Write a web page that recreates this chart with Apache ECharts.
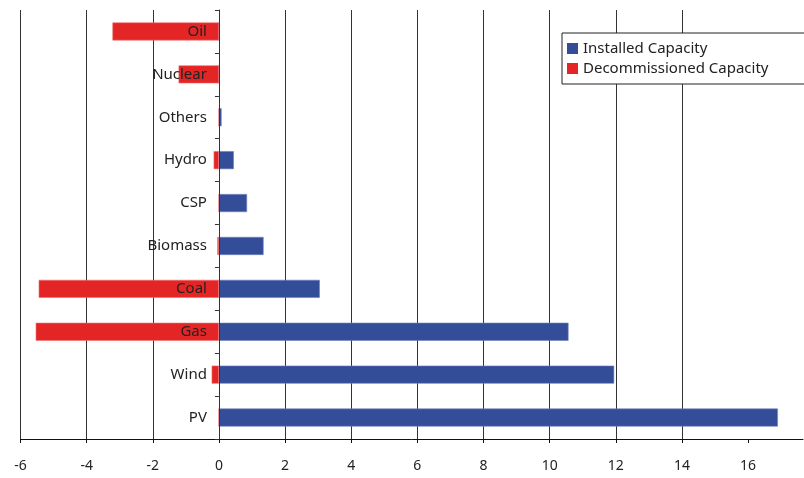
<!DOCTYPE html>
<html>
<head>
<meta charset="utf-8">
<script src="https://cdn.jsdelivr.net/npm/echarts@6/dist/echarts.min.js"></script>
<style>
  html, body { margin: 0; padding: 0; background: #fff; }
  #chart { width: 804px; height: 478px; }
</style>
</head>
<body>
<div id="chart"></div>
<script>
// categories from top to bottom
const categories = ["Oil", "Nuclear", "Others", "Hydro", "CSP", "Biomass", "Coal", "Gas", "Wind", "PV"];
const installed = [0, 0, 0.08, 0.45, 0.85, 1.35, 3.05, 10.57, 11.95, 16.9];
const decommissioned = [-3.22, -1.22, 0, -0.16, 0, -0.05, -5.45, -5.54, -0.22, 0];
const xTicks = [-6, -4, -2, 0, 2, 4, 6, 8, 10, 12, 14, 16];

const xMin = -6;
const xMax = 17.66;
const gridLeft = 20.5;
const gridRight = 1;
const plotWidth = 804 - gridLeft - gridRight;
// category axis sits on x = 0, moved in from the left edge
const zeroOffset = (0 - xMin) / (xMax - xMin) * plotWidth;

const chart = echarts.init(document.getElementById("chart"));

const font = "'Noto Sans', sans-serif";

const option = {
  animation: false,
  grid: {
    left: gridLeft,
    right: gridRight,
    top: 10,
    bottom: 39,
    containLabel: false,
    outerBoundsMode: "none",
  },
  legend: {
    orient: "vertical",
    left: 562,
    top: 33,
    padding: [8, 60, 8, 5],
    backgroundColor: "#fff",
    borderColor: "#222",
    borderWidth: 1,
    itemWidth: 11,
    itemHeight: 11,
    itemGap: 5,
    icon: "rect",
    itemStyle: { borderWidth: 0 },
    textStyle: { fontFamily: font, fontSize: 15, color: "#222" },
    data: ["Installed Capacity", "Decommissioned Capacity"],
  },
  xAxis: {
    type: "value",
    min: xMin,
    max: xMax,
    interval: 2,
    axisLine: { show: true, lineStyle: { color: "#111", width: 1 } },
    axisTick: { show: true, length: 4, customValues: xTicks, lineStyle: { color: "#111" } },
    axisLabel: {
      customValues: xTicks,
      margin: 20,
      fontFamily: font,
      fontSize: 14,
      color: "#222",
    },
    splitLine: { show: true, showMaxLine: false, lineStyle: { color: "#333", width: 1 } },
  },
  yAxis: {
    type: "category",
    inverse: true,
    data: categories,
    z: 3,
    offset: -zeroOffset,
    axisLine: { show: true, onZero: false, lineStyle: { color: "#333" } },
    axisTick: { show: true, length: 4, lineStyle: { color: "#333" } },
    axisLabel: {
      margin: 12,
      fontFamily: font,
      fontSize: 15,
      color: "#222",
    },
  },
  series: [
    {
      name: "Installed Capacity",
      type: "bar",
      data: installed,
      barWidth: 18,
      barGap: "-100%",
      itemStyle: { color: "#334d98", borderColor: "#6f80bd", borderWidth: 0.6 },
    },
    {
      name: "Decommissioned Capacity",
      type: "bar",
      data: decommissioned,
      barWidth: 18,
      barGap: "-100%",
      itemStyle: { color: "#e42525", borderColor: "#ee7070", borderWidth: 0.6 },
    },
  ],
};

chart.setOption(option);
</script>
</body>
</html>
